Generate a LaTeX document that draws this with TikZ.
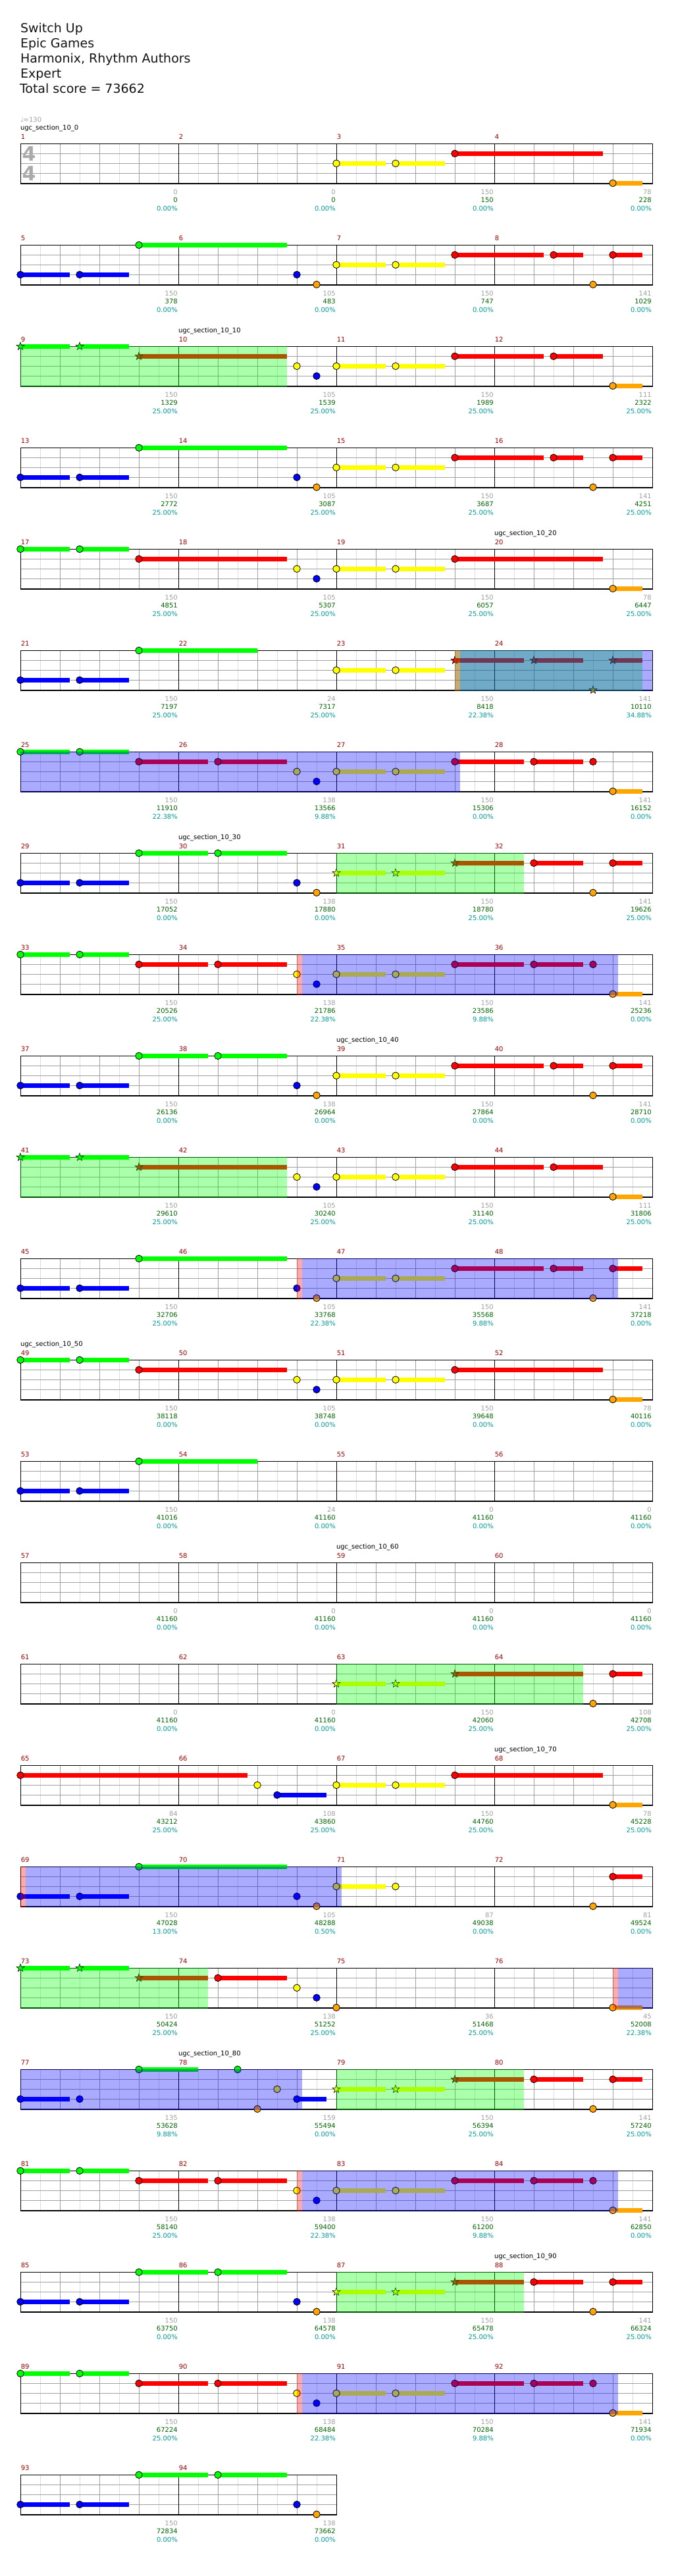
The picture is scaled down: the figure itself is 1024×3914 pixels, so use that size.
\documentclass[tikz,border=0pt]{standalone}
\usepackage{fontspec}
\setmainfont{DejaVu Sans}
\definecolor{cG}{RGB}{0,255,0}
\definecolor{cR}{RGB}{255,0,0}
\definecolor{cY}{RGB}{255,255,0}
\definecolor{cB}{RGB}{0,0,255}
\definecolor{cO}{RGB}{255,165,0}
\definecolor{gridlt}{RGB}{220,220,220}
\definecolor{gridmd}{RGB}{160,160,160}
\definecolor{mnumc}{RGB}{150,0,0}
\definecolor{lgray}{RGB}{160,160,160}
\definecolor{lgreen}{RGB}{0,100,0}
\definecolor{lteal}{RGB}{0,153,153}
\definecolor{titlec}{RGB}{20,20,20}
\definecolor{tsigc}{RGB}{170,170,170}
\tikzset{
  every node/.style={inner sep=0pt, outer sep=0pt},
  ttl/.style={anchor=base west, font=\fontsize{19}{19}\selectfont, text=titlec},
  mnst/.style={anchor=base west, font=\fontsize{10}{10}\selectfont, text=mnumc},
  secst/.style={anchor=base west, font=\fontsize{10}{10}\selectfont, text=black},
  tempost/.style={anchor=base west, font=\fontsize{10}{10}\selectfont, text=lgray},
  lg/.style={anchor=base east, font=\fontsize{10}{10}\selectfont, text=lgray},
  ls/.style={anchor=base east, font=\fontsize{10}{10}\selectfont, text=lgreen},
  lp/.style={anchor=base east, font=\fontsize{10}{10}\selectfont, text=lteal},
  tsig/.style={anchor=center, font=\fontsize{30}{30}\selectfont\bfseries, text=tsigc},
  headline/.style={draw=black, line width=0.8pt},
  ovl/.style={fill opacity=0.333}
}
\newcommand\staffgrid[1]{%
  \pgfmathtruncatemacro\sgodd{#1-1}%
  \pgfmathtruncatemacro\sgeven{#1-2}%
  \pgfmathtruncatemacro\sgmeas{#1/8-1}%
  \foreach \k in {1,3,...,\sgodd} \draw[gridlt, line width=1pt] ({30*\k},0) -- ({30*\k},60.5);
  \foreach \k in {2,4,...,\sgeven} \draw[gridmd, line width=1pt] ({30*\k},0) -- ({30*\k},60.5);
  \foreach \l in {15,30,45} \draw[gridmd, line width=1pt] (0,\l) -- ({30*#1},\l);
  \foreach \k in {1,...,\sgmeas} \draw[black, line width=1pt] ({240*\k},0) -- ({240*\k},60.5);
  \draw[black, line width=1pt] (0,60.5) -- (0,0) -- ({30*#1},0) -- ({30*#1},60.5);
  \draw[black, line width=1.6pt] (-0.5,60.5) -- ({30*#1+0.5},60.5);
}
\newcommand\noteC[4]{%
  \ifdim #4pt>#3pt \fill[#1] ({30*#3},{15*#2-3.2}) rectangle ({30*#4},{15*#2+3.2}); \fi
  \draw[headline, fill=#1] ({30*#3},{15*#2}) circle (5.3);
}
\newcommand\noteS[4]{%
  \ifdim #4pt>#3pt \fill[#1] ({30*#3},{15*#2-3.2}) rectangle ({30*#4},{15*#2+3.2}); \fi
  \draw[draw=black, line width=0.6pt, fill=#1, shift={({30*#3},{15*#2})}]
    (-90:6.2) -- (-54:2.5) -- (-18:6.2) -- (18:2.5) -- (54:6.2) -- (90:2.5)
    -- (126:6.2) -- (162:2.5) -- (198:6.2) -- (234:2.5) -- cycle;
}
\newcommand\nnG[2]{\noteC{cG}{0}{#1}{#2}}
\newcommand\nnR[2]{\noteC{cR}{1}{#1}{#2}}
\newcommand\nnY[2]{\noteC{cY}{2}{#1}{#2}}
\newcommand\nnB[2]{\noteC{cB}{3}{#1}{#2}}
\newcommand\nnO[2]{\noteC{cO}{4}{#1}{#2}}
\newcommand\ssG[2]{\noteS{cG}{0}{#1}{#2}}
\newcommand\ssR[2]{\noteS{cR}{1}{#1}{#2}}
\newcommand\ssY[2]{\noteS{cY}{2}{#1}{#2}}
\newcommand\ssO[2]{\noteS{cO}{4}{#1}{#2}}
\newcommand\ovG[2]{\fill[cG, ovl] ({30*#1},-0.6) rectangle ({30*#2},61.3);}
\newcommand\ovP[2]{\fill[cR, ovl] ({30*#1},-0.6) rectangle ({30*#2},61.3);}
\newcommand\ovB[2]{\fill[cB, ovl] ({30*#1},-0.6) rectangle ({30*#2},61.3);}
\newcommand\mnum[2]{\node[mnst] (n#2) at ({30*#1+0.8},-7.3) {#2};}
\newcommand\mnums[4]{\mnum{0}{#1}\mnum{8}{#2}\mnum{16}{#3}\mnum{24}{#4}}
\newcommand\mlab[5]{%
  \node[lg] (g#2) at ({30*#1-1.2},76.7) {#3};
  \node[ls] (s#2) at ({30*#1-1.2},89.4) {#4};
  \node[lp] (p#2) at ({30*#1-1.2},102.4) {#5};
}
\newcommand\seclab[3]{\node[secst] (sec#3) at ({30*#1},-20.6) {#2};}
\begin{document}
\begin{tikzpicture}[x=1pt,y=-1pt]
\useasboundingbox (0,0) rectangle (1024,3914);
\fill[white] (0,0) rectangle (1024,3914);
% title block
\node[ttl] (t1) at (31,49.3) {Switch Up};
\node[ttl] (t2) at (31,72.3) {Epic Games};
\node[ttl] (t3) at (31,95.3) {Harmonix, Rhythm Authors};
\node[ttl] (t4) at (31,118.3) {Expert};
\node[ttl] (t5) at (30,141.3) {Total score = 73662};

% ---------- row 1 : measures 1-4
\begin{scope}[shift={(31,218.3)}]
\staffgrid{32}
\node[tsig] (ts1) at (13,15.7) {4};
\node[tsig] (ts2) at (13,45.7) {4};
\nnY{16}{18.5}\nnY{19}{21.5}\nnR{22}{29.5}\nnO{30}{31.5}
\node[tempost] (tempo) at (0,-33.3) {♩=130};
\seclab{0}{ugc\_section\_10\_0}{0}
\mnums{1}{2}{3}{4}
\mlab{8}{1}{0}{0}{0.00\%}\mlab{16}{2}{0}{0}{0.00\%}\mlab{24}{3}{150}{150}{0.00\%}\mlab{32}{4}{78}{228}{0.00\%}
\end{scope}

% ---------- row 2 : 5-8
\begin{scope}[shift={(31,372.3)}]
\staffgrid{32}
\nnB{0}{2.5}\nnB{3}{5.5}\nnG{6}{13.5}\nnB{14}{14}\nnO{15}{15}\nnY{16}{18.5}\nnY{19}{21.5}\nnR{22}{26.5}\nnR{27}{28.5}\nnO{29}{29}\nnR{30}{31.5}
\mnums{5}{6}{7}{8}
\mlab{8}{5}{150}{378}{0.00\%}\mlab{16}{6}{105}{483}{0.00\%}\mlab{24}{7}{150}{747}{0.00\%}\mlab{32}{8}{141}{1029}{0.00\%}
\end{scope}

% ---------- row 3 : 9-12
\begin{scope}[shift={(31,526.3)}]
\staffgrid{32}
\ssG{0}{2.5}\ssG{3}{5.5}\ssR{6}{13.5}\nnY{14}{14}\nnB{15}{15}\nnY{16}{18.5}\nnY{19}{21.5}\nnR{22}{26.5}\nnR{27}{29.5}\nnO{30}{31.5}
\ovG{0}{13.5}
\seclab{8}{ugc\_section\_10\_10}{10}
\mnums{9}{10}{11}{12}
\mlab{8}{9}{150}{1329}{25.00\%}\mlab{16}{10}{105}{1539}{25.00\%}\mlab{24}{11}{150}{1989}{25.00\%}\mlab{32}{12}{111}{2322}{25.00\%}
\end{scope}

% ---------- row 4 : 13-16
\begin{scope}[shift={(31,680.3)}]
\staffgrid{32}
\nnB{0}{2.5}\nnB{3}{5.5}\nnG{6}{13.5}\nnB{14}{14}\nnO{15}{15}\nnY{16}{18.5}\nnY{19}{21.5}\nnR{22}{26.5}\nnR{27}{28.5}\nnO{29}{29}\nnR{30}{31.5}
\mnums{13}{14}{15}{16}
\mlab{8}{13}{150}{2772}{25.00\%}\mlab{16}{14}{105}{3087}{25.00\%}\mlab{24}{15}{150}{3687}{25.00\%}\mlab{32}{16}{141}{4251}{25.00\%}
\end{scope}

% ---------- row 5 : 17-20
\begin{scope}[shift={(31,834.3)}]
\staffgrid{32}
\nnG{0}{2.5}\nnG{3}{5.5}\nnR{6}{13.5}\nnY{14}{14}\nnB{15}{15}\nnY{16}{18.5}\nnY{19}{21.5}\nnR{22}{29.5}\nnO{30}{31.5}
\seclab{24}{ugc\_section\_10\_20}{20}
\mnums{17}{18}{19}{20}
\mlab{8}{17}{150}{4851}{25.00\%}\mlab{16}{18}{105}{5307}{25.00\%}\mlab{24}{19}{150}{6057}{25.00\%}\mlab{32}{20}{78}{6447}{25.00\%}
\end{scope}

% ---------- row 6 : 21-24
\begin{scope}[shift={(31,988.3)}]
\staffgrid{32}
\nnB{0}{2.5}\nnB{3}{5.5}\nnG{6}{12}\nnY{16}{18.5}\nnY{19}{21.5}\ssR{22}{25.5}\ssR{26}{28.5}\ssO{29}{29}\ssR{30}{31.5}
\ovG{22}{31.5}\ovP{22}{22.27}\ovB{22.27}{32}
\mnums{21}{22}{23}{24}
\mlab{8}{21}{150}{7197}{25.00\%}\mlab{16}{22}{24}{7317}{25.00\%}\mlab{24}{23}{150}{8418}{22.38\%}\mlab{32}{24}{141}{10110}{34.88\%}
\end{scope}

% ---------- row 7 : 25-28
\begin{scope}[shift={(31,1142.3)}]
\staffgrid{32}
\nnG{0}{2.5}\nnG{3}{5.5}\nnR{6}{9.5}\nnR{10}{13.5}\nnY{14}{14}\nnB{15}{15}\nnY{16}{18.5}\nnY{19}{21.5}\nnR{22}{25.5}\nnR{26}{28.5}\nnR{29}{29}\nnO{30}{31.5}
\ovB{0}{22.27}
\mnums{25}{26}{27}{28}
\mlab{8}{25}{150}{11910}{22.38\%}\mlab{16}{26}{138}{13566}{9.88\%}\mlab{24}{27}{150}{15306}{0.00\%}\mlab{32}{28}{141}{16152}{0.00\%}
\end{scope}

% ---------- row 8 : 29-32
\begin{scope}[shift={(31,1296.3)}]
\staffgrid{32}
\nnB{0}{2.5}\nnB{3}{5.5}\nnG{6}{9.5}\nnG{10}{13.5}\nnB{14}{14}\nnO{15}{15}\ssY{16}{18.5}\ssY{19}{21.5}\ssR{22}{25.5}\nnR{26}{28.5}\nnO{29}{29}\nnR{30}{31.5}
\ovG{16}{25.5}
\seclab{8}{ugc\_section\_10\_30}{30}
\mnums{29}{30}{31}{32}
\mlab{8}{29}{150}{17052}{0.00\%}\mlab{16}{30}{138}{17880}{0.00\%}\mlab{24}{31}{150}{18780}{25.00\%}\mlab{32}{32}{141}{19626}{25.00\%}
\end{scope}

% ---------- row 9 : 33-36
\begin{scope}[shift={(31,1450.3)}]
\staffgrid{32}
\nnG{0}{2.5}\nnG{3}{5.5}\nnR{6}{9.5}\nnR{10}{13.5}\nnY{14}{14}\nnB{15}{15}\nnY{16}{18.5}\nnY{19}{21.5}\nnR{22}{25.5}\nnR{26}{28.5}\nnR{29}{29}\nnO{30}{31.5}
\ovP{14}{14.27}\ovB{14.27}{30.27}
\mnums{33}{34}{35}{36}
\mlab{8}{33}{150}{20526}{25.00\%}\mlab{16}{34}{138}{21786}{22.38\%}\mlab{24}{35}{150}{23586}{9.88\%}\mlab{32}{36}{141}{25236}{0.00\%}
\end{scope}

% ---------- row 10 : 37-40
\begin{scope}[shift={(31,1604.3)}]
\staffgrid{32}
\nnB{0}{2.5}\nnB{3}{5.5}\nnG{6}{9.5}\nnG{10}{13.5}\nnB{14}{14}\nnO{15}{15}\nnY{16}{18.5}\nnY{19}{21.5}\nnR{22}{26.5}\nnR{27}{28.5}\nnO{29}{29}\nnR{30}{31.5}
\seclab{16}{ugc\_section\_10\_40}{40}
\mnums{37}{38}{39}{40}
\mlab{8}{37}{150}{26136}{0.00\%}\mlab{16}{38}{138}{26964}{0.00\%}\mlab{24}{39}{150}{27864}{0.00\%}\mlab{32}{40}{141}{28710}{0.00\%}
\end{scope}

% ---------- row 11 : 41-44
\begin{scope}[shift={(31,1758.3)}]
\staffgrid{32}
\ssG{0}{2.5}\ssG{3}{5.5}\ssR{6}{13.5}\nnY{14}{14}\nnB{15}{15}\nnY{16}{18.5}\nnY{19}{21.5}\nnR{22}{26.5}\nnR{27}{29.5}\nnO{30}{31.5}
\ovG{0}{13.5}
\mnums{41}{42}{43}{44}
\mlab{8}{41}{150}{29610}{25.00\%}\mlab{16}{42}{105}{30240}{25.00\%}\mlab{24}{43}{150}{31140}{25.00\%}\mlab{32}{44}{111}{31806}{25.00\%}
\end{scope}

% ---------- row 12 : 45-48
\begin{scope}[shift={(31,1912.3)}]
\staffgrid{32}
\nnB{0}{2.5}\nnB{3}{5.5}\nnG{6}{13.5}\nnB{14}{14}\nnO{15}{15}\nnY{16}{18.5}\nnY{19}{21.5}\nnR{22}{26.5}\nnR{27}{28.5}\nnO{29}{29}\nnR{30}{31.5}
\ovP{14}{14.27}\ovB{14.27}{30.27}
\mnums{45}{46}{47}{48}
\mlab{8}{45}{150}{32706}{25.00\%}\mlab{16}{46}{105}{33768}{22.38\%}\mlab{24}{47}{150}{35568}{9.88\%}\mlab{32}{48}{141}{37218}{0.00\%}
\end{scope}

% ---------- row 13 : 49-52
\begin{scope}[shift={(31,2066.3)}]
\staffgrid{32}
\nnG{0}{2.5}\nnG{3}{5.5}\nnR{6}{13.5}\nnY{14}{14}\nnB{15}{15}\nnY{16}{18.5}\nnY{19}{21.5}\nnR{22}{29.5}\nnO{30}{31.5}
\seclab{0}{ugc\_section\_10\_50}{50}
\mnums{49}{50}{51}{52}
\mlab{8}{49}{150}{38118}{0.00\%}\mlab{16}{50}{105}{38748}{0.00\%}\mlab{24}{51}{150}{39648}{0.00\%}\mlab{32}{52}{78}{40116}{0.00\%}
\end{scope}

% ---------- row 14 : 53-56
\begin{scope}[shift={(31,2220.3)}]
\staffgrid{32}
\nnB{0}{2.5}\nnB{3}{5.5}\nnG{6}{12}
\mnums{53}{54}{55}{56}
\mlab{8}{53}{150}{41016}{0.00\%}\mlab{16}{54}{24}{41160}{0.00\%}\mlab{24}{55}{0}{41160}{0.00\%}\mlab{32}{56}{0}{41160}{0.00\%}
\end{scope}

% ---------- row 15 : 57-60
\begin{scope}[shift={(31,2374.3)}]
\staffgrid{32}
\seclab{16}{ugc\_section\_10\_60}{60}
\mnums{57}{58}{59}{60}
\mlab{8}{57}{0}{41160}{0.00\%}\mlab{16}{58}{0}{41160}{0.00\%}\mlab{24}{59}{0}{41160}{0.00\%}\mlab{32}{60}{0}{41160}{0.00\%}
\end{scope}

% ---------- row 16 : 61-64
\begin{scope}[shift={(31,2528.3)}]
\staffgrid{32}
\ssY{16}{18.5}\ssY{19}{21.5}\ssR{22}{28.5}\nnO{29}{29}\nnR{30}{31.5}
\ovG{16}{28.5}
\mnums{61}{62}{63}{64}
\mlab{8}{61}{0}{41160}{0.00\%}\mlab{16}{62}{0}{41160}{0.00\%}\mlab{24}{63}{150}{42060}{25.00\%}\mlab{32}{64}{108}{42708}{25.00\%}
\end{scope}

% ---------- row 17 : 65-68
\begin{scope}[shift={(31,2682.3)}]
\staffgrid{32}
\nnR{0}{11.5}\nnY{12}{12}\nnB{13}{15.5}\nnY{16}{18.5}\nnY{19}{21.5}\nnR{22}{29.5}\nnO{30}{31.5}
\seclab{24}{ugc\_section\_10\_70}{70}
\mnums{65}{66}{67}{68}
\mlab{8}{65}{84}{43212}{25.00\%}\mlab{16}{66}{108}{43860}{25.00\%}\mlab{24}{67}{150}{44760}{25.00\%}\mlab{32}{68}{78}{45228}{25.00\%}
\end{scope}

% ---------- row 18 : 69-72
\begin{scope}[shift={(31,2836.3)}]
\staffgrid{32}
\nnB{0}{2.5}\nnB{3}{5.5}\nnG{6}{13.5}\nnB{14}{14}\nnO{15}{15}\nnY{16}{18.5}\nnY{19}{19}\nnO{29}{29}\nnR{30}{31.5}
\ovP{0}{0.27}\ovB{0.27}{16.27}
\mnums{69}{70}{71}{72}
\mlab{8}{69}{150}{47028}{13.00\%}\mlab{16}{70}{105}{48288}{0.50\%}\mlab{24}{71}{87}{49038}{0.00\%}\mlab{32}{72}{81}{49524}{0.00\%}
\end{scope}

% ---------- row 19 : 73-76
\begin{scope}[shift={(31,2990.3)}]
\staffgrid{32}
\ssG{0}{2.5}\ssG{3}{5.5}\ssR{6}{9.5}\nnR{10}{13.5}\nnY{14}{14}\nnB{15}{15}\nnO{16}{16}\nnO{30}{31.5}
\ovG{0}{9.5}\ovP{30}{30.27}\ovB{30.27}{32}
\mnums{73}{74}{75}{76}
\mlab{8}{73}{150}{50424}{25.00\%}\mlab{16}{74}{138}{51252}{25.00\%}\mlab{24}{75}{36}{51468}{25.00\%}\mlab{32}{76}{45}{52008}{22.38\%}
\end{scope}

% ---------- row 20 : 77-80
\begin{scope}[shift={(31,3144.3)}]
\staffgrid{32}
\nnB{0}{2.5}\nnB{3}{3}\nnG{6}{9}\nnG{11}{11}\nnO{12}{12}\nnY{13}{13}\nnB{14}{15.5}\ssY{16}{18.5}\ssY{19}{21.5}\ssR{22}{25.5}\nnR{26}{28.5}\nnO{29}{29}\nnR{30}{31.5}
\ovB{0}{14.27}\ovG{16}{25.5}
\seclab{8}{ugc\_section\_10\_80}{80}
\mnums{77}{78}{79}{80}
\mlab{8}{77}{135}{53628}{9.88\%}\mlab{16}{78}{159}{55494}{0.00\%}\mlab{24}{79}{150}{56394}{25.00\%}\mlab{32}{80}{141}{57240}{25.00\%}
\end{scope}

% ---------- row 21 : 81-84
\begin{scope}[shift={(31,3298.3)}]
\staffgrid{32}
\nnG{0}{2.5}\nnG{3}{5.5}\nnR{6}{9.5}\nnR{10}{13.5}\nnY{14}{14}\nnB{15}{15}\nnY{16}{18.5}\nnY{19}{21.5}\nnR{22}{25.5}\nnR{26}{28.5}\nnR{29}{29}\nnO{30}{31.5}
\ovP{14}{14.27}\ovB{14.27}{30.27}
\mnums{81}{82}{83}{84}
\mlab{8}{81}{150}{58140}{25.00\%}\mlab{16}{82}{138}{59400}{22.38\%}\mlab{24}{83}{150}{61200}{9.88\%}\mlab{32}{84}{141}{62850}{0.00\%}
\end{scope}

% ---------- row 22 : 85-88
\begin{scope}[shift={(31,3452.3)}]
\staffgrid{32}
\nnB{0}{2.5}\nnB{3}{5.5}\nnG{6}{9.5}\nnG{10}{13.5}\nnB{14}{14}\nnO{15}{15}\ssY{16}{18.5}\ssY{19}{21.5}\ssR{22}{25.5}\nnR{26}{28.5}\nnO{29}{29}\nnR{30}{31.5}
\ovG{16}{25.5}
\seclab{24}{ugc\_section\_10\_90}{90}
\mnums{85}{86}{87}{88}
\mlab{8}{85}{150}{63750}{0.00\%}\mlab{16}{86}{138}{64578}{0.00\%}\mlab{24}{87}{150}{65478}{25.00\%}\mlab{32}{88}{141}{66324}{25.00\%}
\end{scope}

% ---------- row 23 : 89-92
\begin{scope}[shift={(31,3606.3)}]
\staffgrid{32}
\nnG{0}{2.5}\nnG{3}{5.5}\nnR{6}{9.5}\nnR{10}{13.5}\nnY{14}{14}\nnB{15}{15}\nnY{16}{18.5}\nnY{19}{21.5}\nnR{22}{25.5}\nnR{26}{28.5}\nnR{29}{29}\nnO{30}{31.5}
\ovP{14}{14.27}\ovB{14.27}{30.27}
\mnums{89}{90}{91}{92}
\mlab{8}{89}{150}{67224}{25.00\%}\mlab{16}{90}{138}{68484}{22.38\%}\mlab{24}{91}{150}{70284}{9.88\%}\mlab{32}{92}{141}{71934}{0.00\%}
\end{scope}

% ---------- row 24 : 93-94
\begin{scope}[shift={(31,3760.3)}]
\staffgrid{16}
\nnB{0}{2.5}\nnB{3}{5.5}\nnG{6}{9.5}\nnG{10}{13.5}\nnB{14}{14}\nnO{15}{15}
\mnum{0}{93}\mnum{8}{94}
\mlab{8}{93}{150}{72834}{0.00\%}\mlab{16}{94}{138}{73662}{0.00\%}
\end{scope}
\end{tikzpicture}
\end{document}
